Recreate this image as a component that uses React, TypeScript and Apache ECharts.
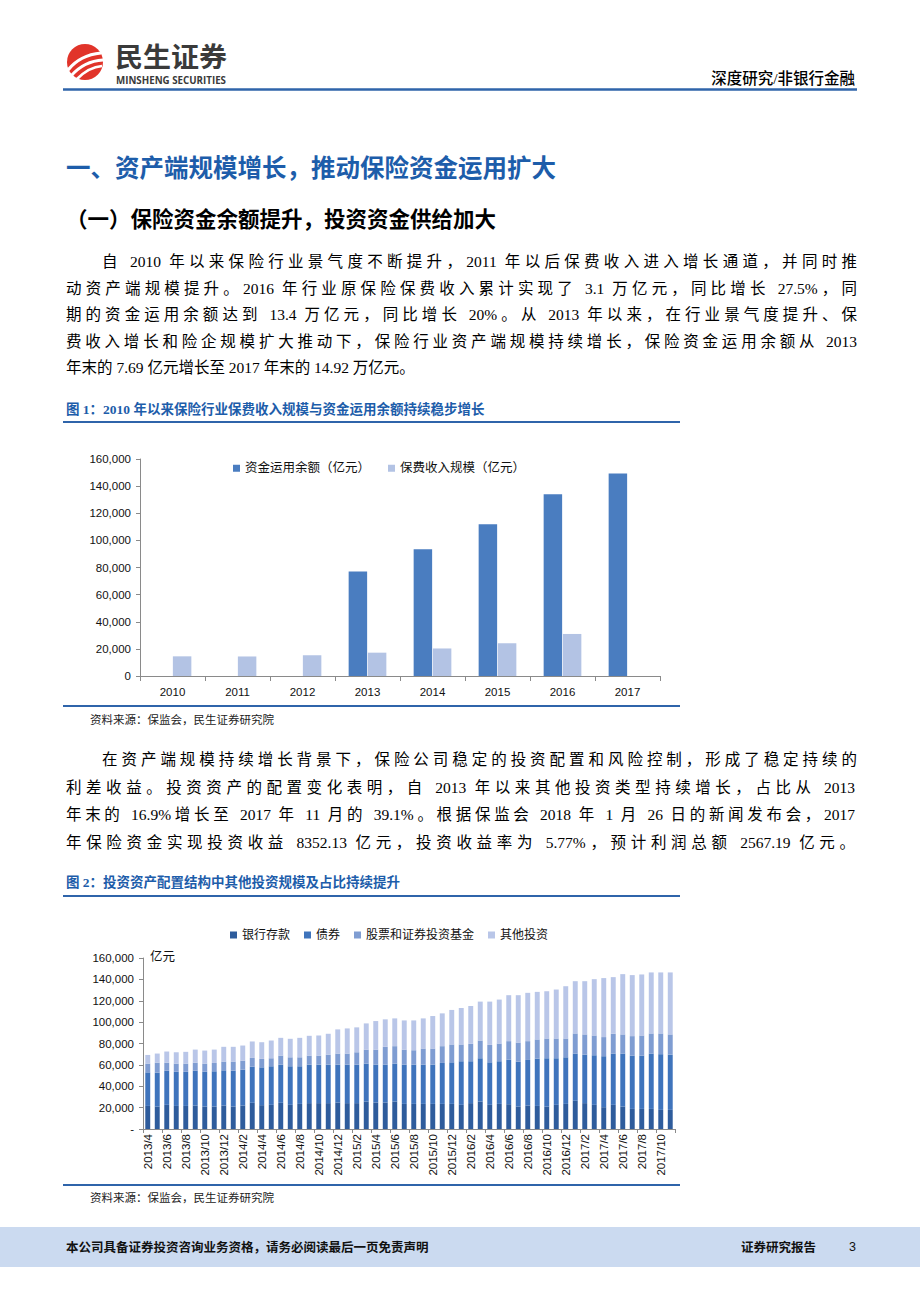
import React, { useEffect, useRef } from "react";
import * as echarts from "echarts";

// ---------- Figure 1 data ----------
const years = ["2010", "2011", "2012", "2013", "2014", "2015", "2016", "2017"];
const fundBalance = [null, null, null, 77000, 93400, 111900, 134000, 149300];
const premiumIncome = [14500, 14400, 15300, 17200, 20300, 24200, 31000, null];
const fig1Names = ["资金运用余额（亿元）", "保费收入规模（亿元）"];

// ---------- Figure 2 data ----------
const months = [
  "2013/4", "2013/5", "2013/6", "2013/7", "2013/8", "2013/9", "2013/10", "2013/11", "2013/12",
  "2014/1", "2014/2", "2014/3", "2014/4", "2014/5", "2014/6", "2014/7", "2014/8", "2014/9", "2014/10", "2014/11", "2014/12",
  "2015/1", "2015/2", "2015/3", "2015/4", "2015/5", "2015/6", "2015/7", "2015/8", "2015/9", "2015/10", "2015/11", "2015/12",
  "2016/1", "2016/2", "2016/3", "2016/4", "2016/5", "2016/6", "2016/7", "2016/8", "2016/9", "2016/10", "2016/11", "2016/12",
  "2017/1", "2017/2", "2017/3", "2017/4", "2017/5", "2017/6", "2017/7", "2017/8", "2017/9", "2017/10", "2017/11",
];
const bankDeposit = [
  21600, 21000, 22600, 21600, 21600, 22000, 21000, 21000, 22000, 21000,
  22000, 24500, 22300, 22600, 24500, 22600, 23500, 24200, 24200, 24200,
  24800, 24200, 24200, 25700, 24800, 24800, 25700, 23500, 23500, 23500,
  23500, 23500, 23500, 22600, 24200, 25700, 22600, 23500, 23200, 21000,
  22000, 21600, 21000, 22600, 23500, 26400, 24200, 22600, 20400, 22600,
  21000, 18800, 18800, 18800, 17900, 17900,
];
const bonds = [
  31400, 31700, 32000, 32000, 32000, 32600, 32600, 33000, 32900, 33600,
  33500, 33800, 35400, 36100, 35700, 36100, 35200, 36000, 36000, 36000,
  35400, 36000, 36000, 35500, 35400, 35400, 35500, 36700, 36700, 36700,
  36700, 38300, 38900, 40800, 39200, 40500, 39800, 39900, 41700, 42100,
  42600, 44300, 45200, 43600, 43600, 44200, 45400, 46400, 47700, 48000,
  49600, 49900, 49900, 51800, 52100, 51700,
];
const stocksFunds = [
  8200, 9400, 7500, 7600, 7600, 7500, 7600, 7800, 8200, 8500,
  8500, 8200, 7900, 7500, 8500, 8400, 8400, 8500, 8500, 9400,
  10400, 10400, 11600, 13100, 14100, 16700, 16300, 14100, 13500, 15100,
  15100, 15700, 16700, 15700, 16300, 16600, 16300, 16600, 17300, 17800,
  17600, 17900, 18500, 18500, 17600, 18800, 18900, 18500, 17900, 18500,
  17900, 18200, 18800, 18800, 19400, 18900,
];
const otherInvest = [
  8100, 8500, 10400, 10600, 11000, 12200, 12200, 12500, 13800, 13800,
  14100, 15400, 15600, 16600, 16600, 17300, 18200, 18500, 18800, 19500,
  22600, 23500, 23300, 24500, 26700, 25700, 26000, 27300, 27900, 28200,
  30400, 30700, 32300, 34100, 35400, 36400, 40500, 41100, 43000, 44300,
  45200, 44500, 44200, 45800, 48900, 48900, 49800, 52700, 55200, 53000,
  56400, 57100, 57100, 57100, 57100, 58000,
];
const fig2Names = ["银行存款", "债券", "股票和证券投资基金", "其他投资"];

// ---------- page text ----------
const para1 = [
  "自 2010 年以来保险行业景气度不断提升，2011 年以后保费收入进入增长通道，并同时推",
  "动资产端规模提升。2016 年行业原保险保费收入累计实现了 3.1 万亿元，同比增长 27.5%，同",
  "期的资金运用余额达到 13.4 万亿元，同比增长 20%。从 2013 年以来，在行业景气度提升、保",
  "费收入增长和险企规模扩大推动下，保险行业资产端规模持续增长，保险资金运用余额从 2013",
  "年末的 7.69 亿元增长至 2017 年末的 14.92 万亿元。",
];
const para2 = [
  "在资产端规模持续增长背景下，保险公司稳定的投资配置和风险控制，形成了稳定持续的",
  "利差收益。投资资产的配置变化表明，自 2013 年以来其他投资类型持续增长，占比从 2013",
  "年末的 16.9%增长至 2017 年 11 月的 39.1%。根据保监会 2018 年 1 月 26 日的新闻发布会，2017",
  "年保险资金实现投资收益 8352.13 亿元，投资收益率为 5.77%，预计利润总额 2567.19 亿元。",
];

const BODY_FONT = "'Liberation Serif', 'Noto Sans CJK SC', serif";
const CHART_FONT = "'Liberation Sans', 'Noto Sans CJK SC', sans-serif";
const BLUE = "#1D5DAA";
const LINE_BLUE = "#2F64AA";

const thousands = (v: number) => v.toLocaleString("en-US");

function useChart(option: any) {
  const ref = useRef<HTMLDivElement>(null);
  useEffect(() => {
    if (!ref.current) return;
    const chart = echarts.init(ref.current, undefined, { renderer: "svg" });
    chart.setOption(option);
    return () => chart.dispose();
  }, []);
  return ref;
}

function Chart1() {
  const option = {
    animation: false,
    textStyle: { fontFamily: CHART_FONT },
    legend: {
      top: 17,
      left: 228,
      icon: "rect",
      itemWidth: 7,
      itemHeight: 7,
      itemGap: 18,
      textStyle: { fontSize: 12.5, color: "#111", fontFamily: CHART_FONT },
      data: fig1Names,
    },
    grid: { left: 140, right: 40, top: 19, bottom: 30 },
    xAxis: {
      type: "category",
      data: years,
      axisLine: { lineStyle: { color: "#8a8a8a" } },
      axisTick: { show: true, length: 5, lineStyle: { color: "#8a8a8a" } },
      axisLabel: { color: "#111", fontSize: 11.5, margin: 10 },
    },
    yAxis: {
      type: "value",
      min: 0,
      max: 160000,
      interval: 20000,
      axisLine: { show: true, lineStyle: { color: "#8a8a8a" } },
      axisTick: { show: true, length: 4, lineStyle: { color: "#8a8a8a" } },
      splitLine: { show: false },
      axisLabel: { color: "#111", fontSize: 11.5, margin: 9, formatter: thousands },
    },
    series: [
      {
        type: "bar",
        name: fig1Names[0],
        data: fundBalance,
        itemStyle: { color: "#4A7DC0" },
        barGap: "4%",
        barCategoryGap: "42%",
      },
      {
        type: "bar",
        name: fig1Names[1],
        data: premiumIncome,
        itemStyle: { color: "#B3C3E4" },
      },
    ],
  };
  const ref = useChart(option);
  return (
    <div
      ref={ref}
      style={{ position: "absolute", left: 0, top: 440, width: 700, height: 266 }}
    />
  );
}

function Chart2() {
  const colors = ["#2E5C9C", "#3F74BC", "#7F9DD2", "#B9C6E8"];
  const series = [bankDeposit, bonds, stocksFunds, otherInvest].map((d, i) => ({
    type: "bar",
    name: fig2Names[i],
    stack: "total",
    data: d,
    barCategoryGap: "48%",
    itemStyle: { color: colors[i] },
  }));
  const option = {
    animation: false,
    textStyle: { fontFamily: CHART_FONT },
    legend: {
      top: 19,
      left: 225,
      icon: "rect",
      itemWidth: 7,
      itemHeight: 7,
      itemGap: 14,
      textStyle: { fontSize: 12, color: "#111", fontFamily: CHART_FONT },
      data: fig2Names,
    },
    graphic: [
      {
        type: "text",
        left: 150,
        top: 46,
        style: { text: "亿元", fontSize: 12.5, fill: "#111", fontFamily: CHART_FONT },
      },
    ],
    grid: { left: 143, right: 25, top: 53, bottom: 56 },
    xAxis: {
      type: "category",
      data: months,
      axisLine: { lineStyle: { color: "#8a8a8a" } },
      axisTick: { show: true, interval: 1, length: 4, lineStyle: { color: "#8a8a8a" } },
      axisLabel: { color: "#111", fontSize: 11.5, rotate: 90, interval: 1, margin: 5 },
    },
    yAxis: {
      type: "value",
      min: 0,
      max: 160000,
      interval: 20000,
      axisLine: { show: true, lineStyle: { color: "#8a8a8a" } },
      axisTick: { show: true, length: 4, lineStyle: { color: "#8a8a8a" } },
      splitLine: { show: false },
      axisLabel: {
        color: "#111",
        fontSize: 11.5,
        margin: 9,
        formatter: (v: number) => (v === 0 ? "-" : thousands(v)),
      },
    },
    series,
  };
  const ref = useChart(option);
  return (
    <div
      ref={ref}
      style={{ position: "absolute", left: 0, top: 905, width: 700, height: 280 }}
    />
  );
}

function TextLine(props: {
  x: number;
  y: number;
  w?: number;
  size: number;
  lh?: number;
  justify?: boolean;
  style?: React.CSSProperties;
  children: React.ReactNode;
}) {
  const lh = props.lh ?? Math.round(props.size * 1.6);
  return (
    <div
      style={{
        position: "absolute",
        left: props.x,
        top: props.y - lh / 2,
        width: props.w ?? 800,
        height: lh,
        lineHeight: lh + "px",
        fontSize: props.size,
        fontFamily: BODY_FONT,
        color: "#000",
        textAlign: props.justify ? "justify" : "left",
        textAlignLast: props.justify ? "justify" : "auto",
        textJustify: props.justify ? "inter-character" : undefined,
        whiteSpace: props.justify ? "normal" : "nowrap",
        ...props.style,
      } as any}
    >
      {props.children}
    </div>
  );
}

function Header() {
  return (
    <svg
      width={920}
      height={100}
      style={{ position: "absolute", left: 0, top: 0 }}
    >
      <circle cx={85} cy={62} r={18} fill="#E1342A" />
      <path d="M68 70 Q80 55 101 53" stroke="#fff" strokeWidth={3.2} fill="none" />
      <path d="M71 76 Q84 61 103 60" stroke="#fff" strokeWidth={3} fill="none" />
      <path d="M77 79 Q89 67 102 66" stroke="#fff" strokeWidth={2.6} fill="none" />
      <text
        x={115}
        y={67}
        fontSize={27}
        fontWeight="bold"
        fill="#3a3a3a"
        textLength={112}
        lengthAdjust="spacingAndGlyphs"
        fontFamily="'Noto Sans CJK SC', sans-serif"
      >
        民生证券
      </text>
      <text
        x={116}
        y={83.5}
        fontSize={10.5}
        fontWeight="bold"
        fill="#3a3a3a"
        textLength={110}
        lengthAdjust="spacingAndGlyphs"
        fontFamily="'Open Sans', 'Liberation Sans', sans-serif"
      >
        MINSHENG SECURITIES
      </text>
      <text
        x={855}
        y={84}
        fontSize={15.5}
        textAnchor="end"
        fill="#000"
        fontWeight={500}
        fontFamily={BODY_FONT}
      >
        深度研究/非银行金融
      </text>
      <line x1={63} y1={89.5} x2={857} y2={89.5} stroke={LINE_BLUE} strokeWidth={2.5} />
    </svg>
  );
}

function HLine(props: { y: number; x1?: number; x2?: number; t?: number }) {
  const x1 = props.x1 ?? 63;
  const x2 = props.x2 ?? 680;
  const t = props.t ?? 1.5;
  return (
    <div
      style={{
        position: "absolute",
        left: x1,
        top: props.y - t / 2,
        width: x2 - x1,
        height: t,
        background: LINE_BLUE,
      }}
    />
  );
}

export default function App() {
  const p1Y = [262, 288.5, 315, 341.5, 368];
  const p2Y = [760, 787.5, 815, 842.5];
  return (
    <div
      lang="zh-CN"
      style={{
        position: "absolute",
        left: 0,
        top: 0,
        width: 920,
        height: 1302,
        background: "#fff",
        overflow: "hidden",
      }}
    >
      <Header />

      <TextLine
        x={66}
        y={167}
        size={24.5}
        lh={34}
        style={{ color: BLUE, fontWeight: "bold", fontFamily: "'Noto Sans CJK SC', sans-serif" }}
      >
        一、资产端规模增长，推动保险资金运用扩大
      </TextLine>
      <TextLine
        x={66}
        y={218}
        size={21.5}
        lh={30}
        style={{ fontWeight: "bold", fontFamily: "'Noto Sans CJK SC', sans-serif" }}
      >
        （一）保险资金余额提升，投资资金供给加大
      </TextLine>

      {para1.map((t, i) => (
        <TextLine
          key={"p1" + i}
          x={i === 0 ? 102 : 66}
          w={i === 0 ? 755 : 791}
          y={p1Y[i]}
          size={15.5}
          lh={24}
          justify={i < para1.length - 1}
        >
          {t}
        </TextLine>
      ))}

      <TextLine
        x={66}
        y={410}
        size={13.5}
        lh={20}
        style={{ color: BLUE, fontWeight: "bold" }}
      >
        图 1：2010 年以来保险行业保费收入规模与资金运用余额持续稳步增长
      </TextLine>
      <HLine y={422} />
      <Chart1 />
      <HLine y={706} />
      <TextLine x={90} y={720} size={11.5} lh={18} style={{ color: "#222" }}>
        资料来源：保监会，民生证券研究院
      </TextLine>

      {para2.map((t, i) => (
        <TextLine
          key={"p2" + i}
          x={i === 0 ? 102 : 66}
          w={i === 0 ? 755 : 789}
          y={p2Y[i]}
          size={15.5}
          lh={24}
          justify
        >
          {t}
        </TextLine>
      ))}

      <TextLine
        x={66}
        y={883}
        size={13.5}
        lh={20}
        style={{ color: BLUE, fontWeight: "bold" }}
      >
        图 2：投资资产配置结构中其他投资规模及占比持续提升
      </TextLine>
      <HLine y={896} />
      <Chart2 />
      <HLine y={1185} />
      <TextLine x={90} y={1198} size={11.5} lh={18} style={{ color: "#222" }}>
        资料来源：保监会，民生证券研究院
      </TextLine>

      <div
        style={{
          position: "absolute",
          left: 0,
          top: 1227,
          width: 920,
          height: 40,
          background: "#CBDAF0",
        }}
      />
      <TextLine
        x={66}
        y={1247}
        size={12.5}
        lh={20}
        style={{ fontWeight: "bold", fontFamily: "'Noto Sans CJK SC', sans-serif", color: "#111" }}
      >
        本公司具备证券投资咨询业务资格，请务必阅读最后一页免责声明
      </TextLine>
      <TextLine
        x={741}
        y={1247}
        size={12.5}
        lh={20}
        w={100}
        style={{ fontWeight: "bold", fontFamily: "'Noto Sans CJK SC', sans-serif", color: "#111" }}
      >
        证券研究报告
      </TextLine>
      <TextLine
        x={849}
        y={1247}
        size={12.5}
        lh={20}
        w={20}
        style={{ fontFamily: "'Liberation Sans', sans-serif", color: "#111" }}
      >
        3
      </TextLine>
    </div>
  );
}
